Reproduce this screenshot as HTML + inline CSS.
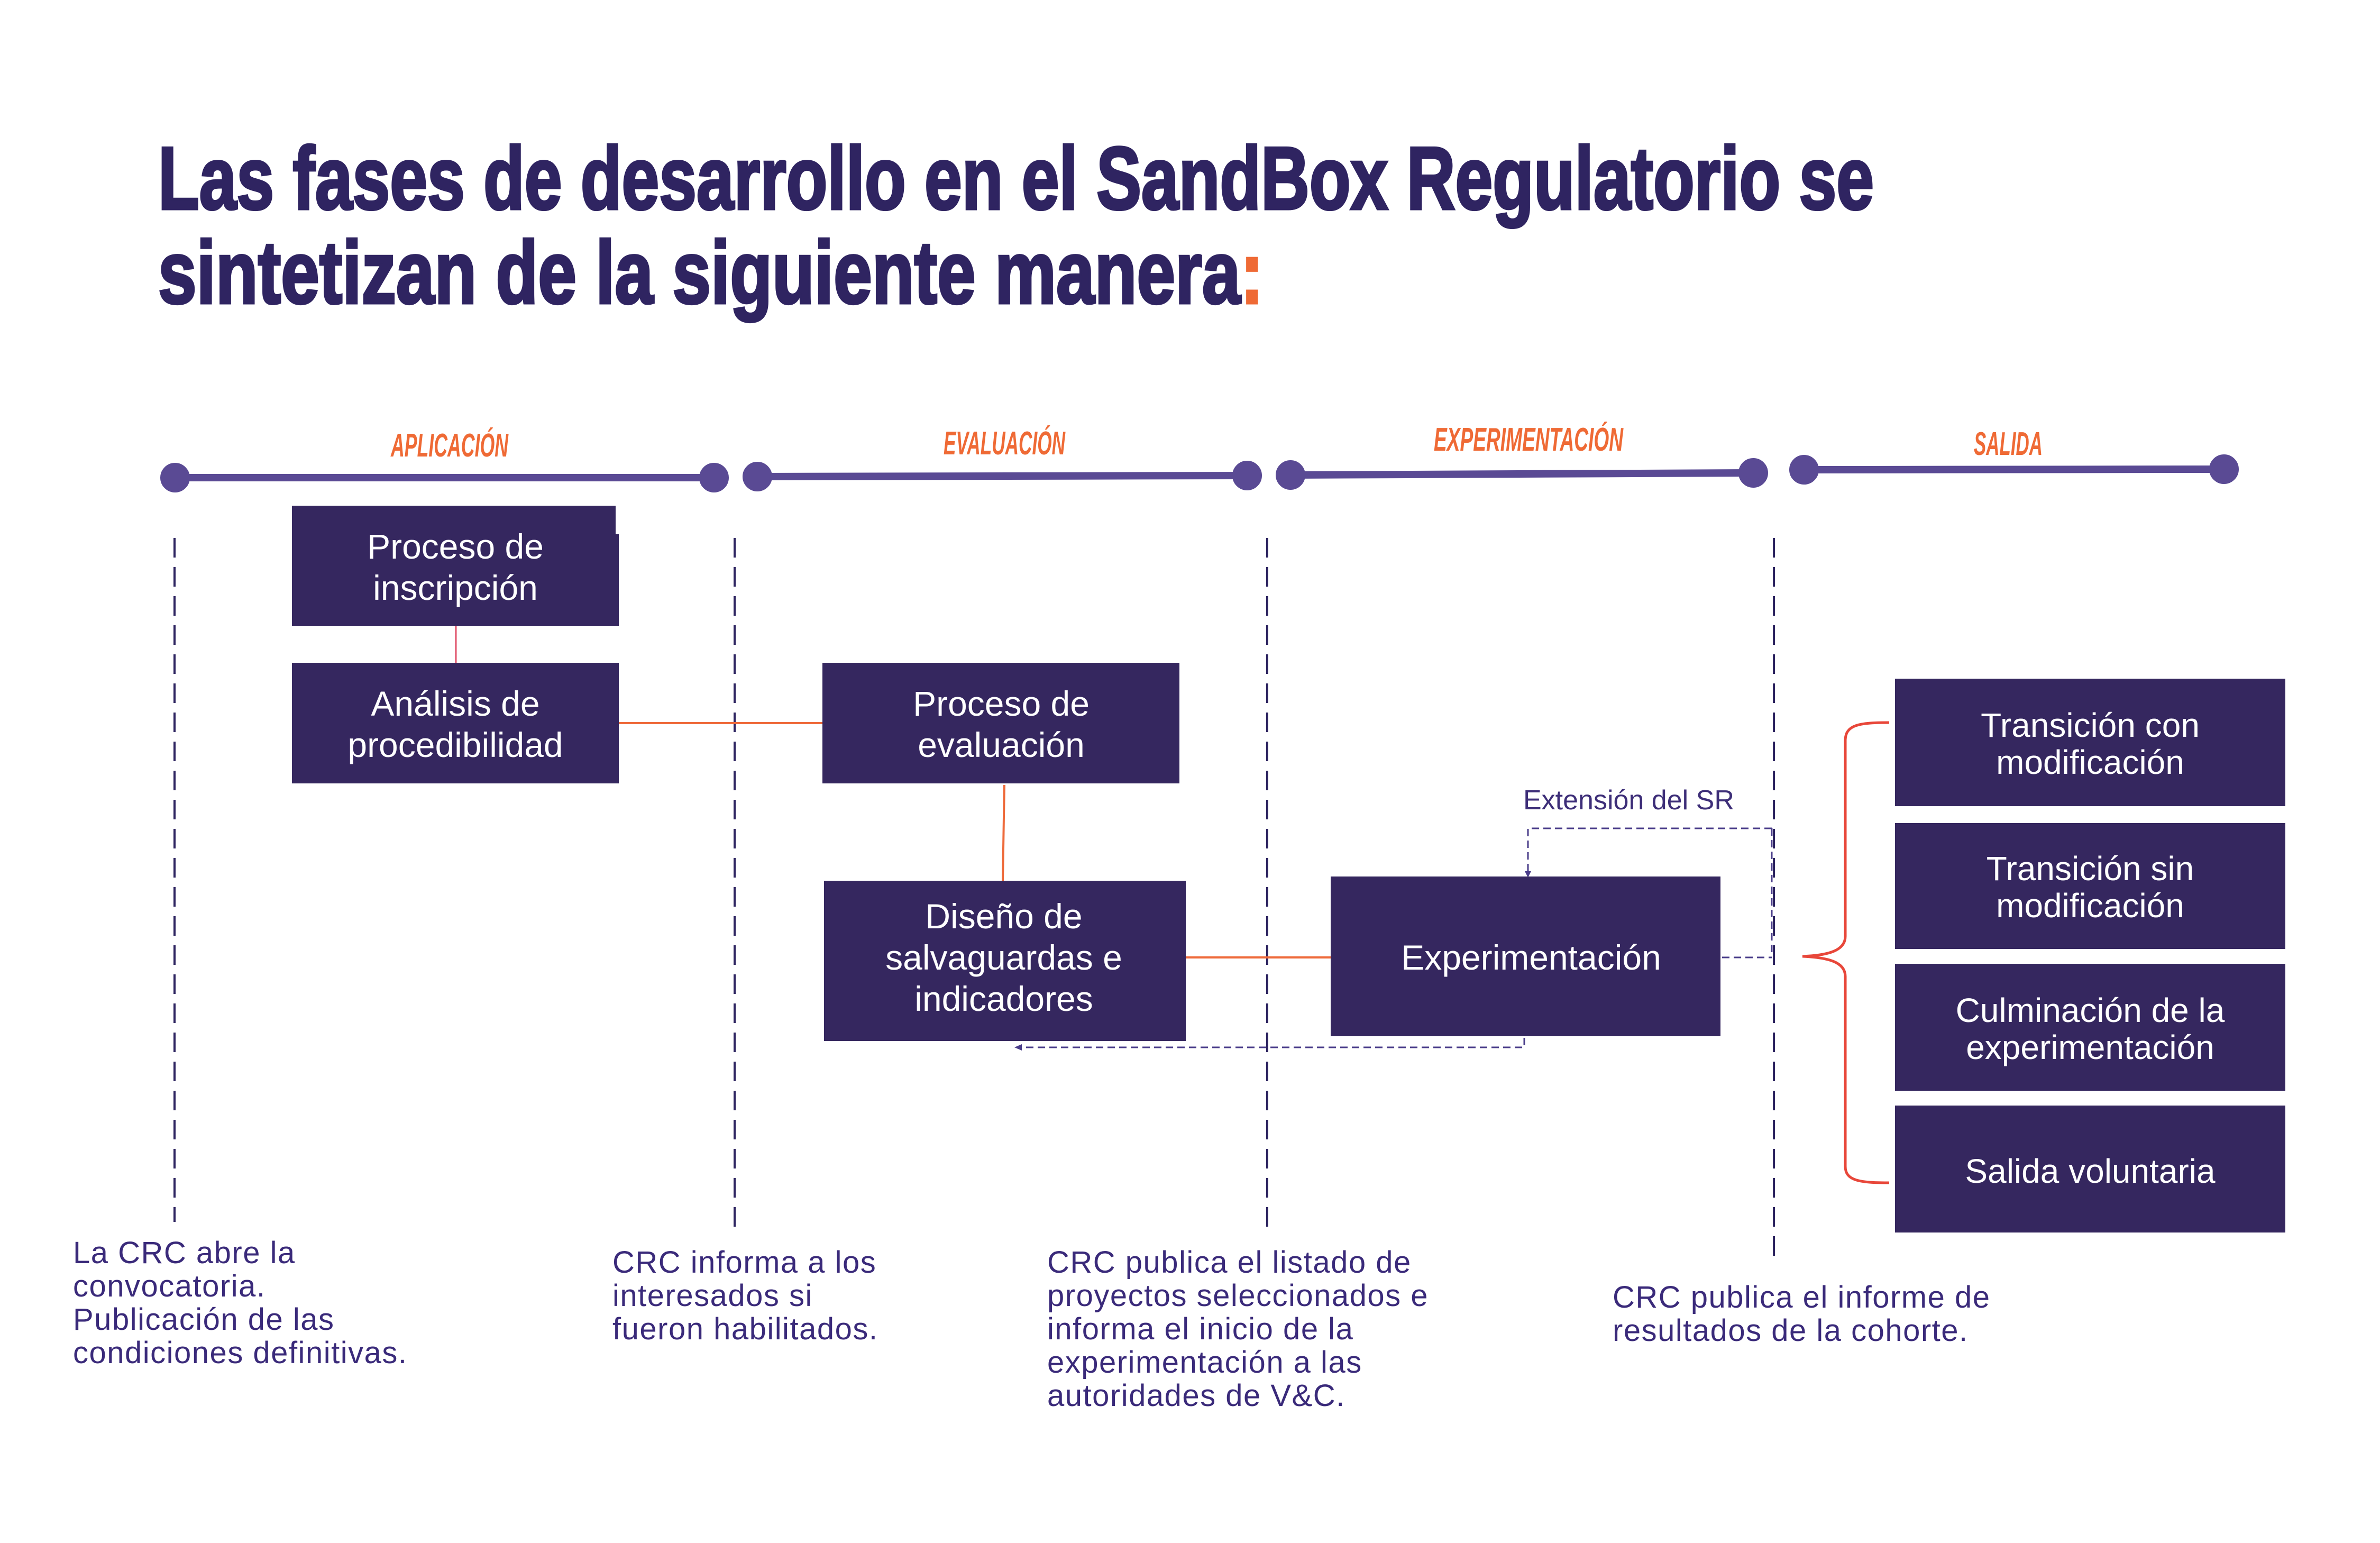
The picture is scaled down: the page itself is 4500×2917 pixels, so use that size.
<!DOCTYPE html>
<html><head><meta charset="utf-8"><style>html,body{margin:0;padding:0;background:#fff}svg{display:block}</style></head>
<body>
<svg width="4500" height="2917" viewBox="0 0 4500 2917" xmlns="http://www.w3.org/2000/svg">
<rect width="4500" height="2917" fill="#fff"/>
<g font-family="Liberation Sans, sans-serif" font-weight="bold" fill="#2f2461" stroke="#2f2461" stroke-width="5" font-size="168">
<text x="299" y="395" textLength="3244" lengthAdjust="spacingAndGlyphs">Las fases de desarrollo en el SandBox Regulatorio se</text>
<text x="299" y="573" textLength="2090" lengthAdjust="spacingAndGlyphs">sintetizan de la siguiente manera<tspan fill="#ef6a35" stroke="#ef6a35">:</tspan></text>
</g>
<g font-family="Liberation Sans, sans-serif" font-weight="bold" font-style="italic" fill="#ef6a35" font-size="62">
<text x="739" y="863" textLength="222" lengthAdjust="spacingAndGlyphs">APLICACIÓN</text>
<text x="1784" y="859" textLength="230" lengthAdjust="spacingAndGlyphs">EVALUACIÓN</text>
<text x="2711" y="852" textLength="358" lengthAdjust="spacingAndGlyphs">EXPERIMENTACIÓN</text>
<text x="3732" y="860" textLength="130" lengthAdjust="spacingAndGlyphs">SALIDA</text>
</g>
<g stroke="#5a4a94" stroke-width="14" fill="#5a4a94">
<line x1="331" y1="903" x2="1350" y2="903"/><circle cx="331" cy="903" r="21"/><circle cx="1350" cy="903" r="21"/>
<line x1="1432" y1="901" x2="2358" y2="899"/><circle cx="1432" cy="901" r="21"/><circle cx="2358" cy="899" r="21"/>
<line x1="2440" y1="898" x2="3315" y2="894"/><circle cx="2440" cy="898" r="21"/><circle cx="3315" cy="894" r="21"/>
<line x1="3411" y1="888" x2="4205" y2="887"/><circle cx="3411" cy="888" r="21"/><circle cx="4205" cy="887" r="21"/>
</g>
<g stroke="#2d2460" stroke-width="4" stroke-dasharray="37 18">
<line x1="330" y1="1017" x2="330" y2="2310"/>
<line x1="1389" y1="1017" x2="1389" y2="2332"/>
<line x1="2396" y1="1017" x2="2396" y2="2332"/>
<line x1="3354" y1="1017" x2="3354" y2="2382"/>
</g>
<!-- connectors -->
<line x1="862" y1="1183" x2="862" y2="1256" stroke="#e0506a" stroke-width="3"/>
<line x1="1170" y1="1367" x2="1555" y2="1367" stroke="#ee6a3a" stroke-width="4"/>
<line x1="1899" y1="1484" x2="1896" y2="1665" stroke="#ee6a3a" stroke-width="4"/>
<line x1="2242" y1="1810" x2="2516" y2="1810" stroke="#ee6a3a" stroke-width="4"/>
<g stroke="#4a3d8a" stroke-width="3" stroke-dasharray="14 8" fill="none">
<polyline points="2882,1962 2882,1980 1930,1980"/>
<polyline points="3256,1810 3350,1810"/>
<polyline points="3350,1566 2889,1566 2889,1650"/>
<line x1="3350" y1="1566" x2="3350" y2="1800"/>
</g>
<path d="M1918 1980 l14 -6 v12 z" fill="#4a3d8a"/>
<path d="M2889 1659 l-6 -12 h12 z" fill="#4a3d8a"/>
<text x="2880" y="1530" font-family="Liberation Sans, sans-serif" font-size="52" fill="#3d2e78">Extensión del SR</text>
<!-- brace -->
<path d="M3572 1366 C3515 1366 3489 1370 3489 1400 L3489 1770 C3489 1798 3455 1806 3408 1808 C3455 1810 3489 1818 3489 1846 L3489 2205 C3489 2232 3515 2236 3572 2236" fill="none" stroke="#e8473a" stroke-width="5"/>
<!-- boxes -->
<g fill="#35275f">
<rect x="552" y="956" width="612" height="227"/><rect x="1150" y="1010" width="20" height="173"/>
<rect x="552" y="1253" width="618" height="228"/>
<rect x="1555" y="1253" width="675" height="228"/>
<rect x="1558" y="1665" width="684" height="303"/>
<rect x="2516" y="1657" width="737" height="302"/>
<rect x="3583" y="1283" width="738" height="241"/>
<rect x="3583" y="1556" width="738" height="238"/>
<rect x="3583" y="1822" width="738" height="240"/>
<rect x="3583" y="2090" width="738" height="240"/>
</g>
<g font-family="Liberation Sans, sans-serif" fill="#fff" font-size="66" text-anchor="middle">
<text x="861" y="1056">Proceso de</text><text x="861" y="1134">inscripción</text>
<text x="861" y="1353">Análisis de</text><text x="861" y="1431">procedibilidad</text>
<text x="1893" y="1353">Proceso de</text><text x="1893" y="1431">evaluación</text>
<text x="1898" y="1755">Diseño de</text><text x="1898" y="1833">salvaguardas e</text><text x="1898" y="1911">indicadores</text>
<text x="2895" y="1833">Experimentación</text>
</g>
<g font-family="Liberation Sans, sans-serif" fill="#fff" font-size="64" text-anchor="middle">
<text x="3952" y="1393">Transición con</text><text x="3952" y="1463">modificación</text>
<text x="3952" y="1664">Transición sin</text><text x="3952" y="1734">modificación</text>
<text x="3952" y="1932">Culminación de la</text><text x="3952" y="2002">experimentación</text>
<text x="3952" y="2236">Salida voluntaria</text>
</g>
<g font-family="Liberation Sans, sans-serif" fill="#3a2a7a" font-size="58" letter-spacing="1.5">
<text x="138" y="2388">La CRC abre la</text><text x="138" y="2451">convocatoria.</text><text x="138" y="2514">Publicación de las</text><text x="138" y="2577">condiciones definitivas.</text>
<text x="1158" y="2406">CRC informa a los</text><text x="1158" y="2469">interesados si</text><text x="1158" y="2532">fueron habilitados.</text>
<text x="1980" y="2406">CRC publica el listado de</text><text x="1980" y="2469">proyectos seleccionados e</text><text x="1980" y="2532">informa el inicio de la</text><text x="1980" y="2595">experimentación a las</text><text x="1980" y="2658">autoridades de V&amp;C.</text>
<text x="3049" y="2472">CRC publica el informe de</text><text x="3049" y="2535">resultados de la cohorte.</text>
</g>
</svg>
</body></html>
